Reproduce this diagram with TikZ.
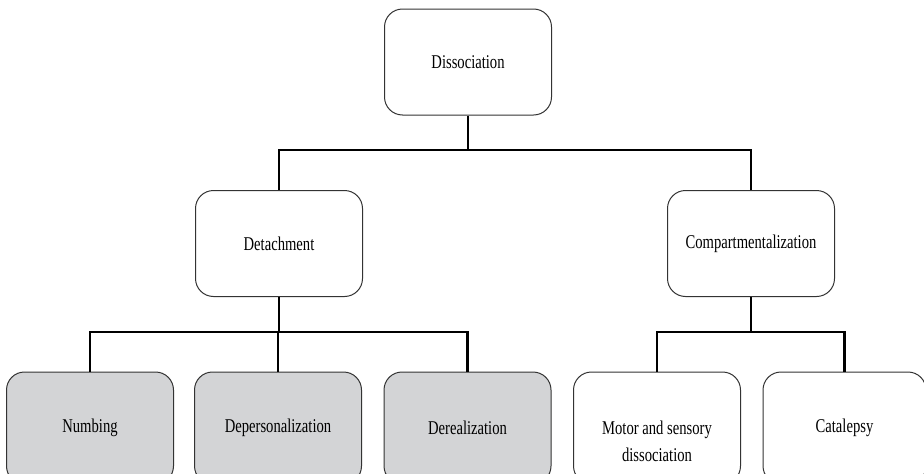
\documentclass[tikz,border=0pt]{standalone}
\usepackage{fontspec}
\setmainfont{Liberation Serif}[FakeStretch=0.75]
\definecolor{boxgray}{HTML}{D3D4D6}
\definecolor{edgegray}{HTML}{333333}
\tikzset{
  box/.style={draw=edgegray, line width=1pt, rounded corners=18pt, fill=white,
    minimum width=167pt, minimum height=106pt, inner sep=0pt, align=center,
    font=\fontsize{19.5}{26}\selectfont},
  lowbox/.style={box, minimum height=112pt},
  graybox/.style={lowbox, fill=boxgray},
  conn/.style={draw=black, line width=2.7pt}
}
\begin{document}
\begin{tikzpicture}[x=1pt,y=-1pt]
\useasboundingbox (0,0) rectangle (924,474);
\clip (0,0) rectangle (924,474);
% nodes
\node[box] (dis) at (468,62) {Dissociation};
\node[box] (det) at (279,243.5) {Detachment};
\node[box] (comp) at (751,243.5) {Compartmentalization};
\node[graybox] (numb) at (90,428) {Numbing};
\node[graybox] (depers) at (278,428) {Depersonalization};
\node[graybox] (dereal) at (467.5,428) {Derealization};
\node[lowbox] (motor) at (657,428) {\raisebox{-20pt}[0pt][0pt]{\begin{tabular}{@{}c@{}}Motor and sensory\\[1pt]dissociation\end{tabular}}};
\node[lowbox, minimum width=163pt] (cata) at (844.5,428) {Catalepsy};
% junctions
\coordinate (j1) at (468,150);
\coordinate (j2) at (279,332);
\coordinate (j3) at (751,332);
% connectors
\draw[conn] (dis.south) -- (j1);
\draw[conn] (det.north) |- (j1) -| (comp.north);
\draw[conn] (det.south) -- (j2);
\draw[conn] (numb.north) |- (j2) -| (dereal.north);
\draw[conn] (depers.north) -- (depers.north |- j2);
\draw[conn] (comp.south) -- (j3);
\draw[conn] (motor.north) |- (j3) -| (cata.north);
\end{tikzpicture}
\end{document}
